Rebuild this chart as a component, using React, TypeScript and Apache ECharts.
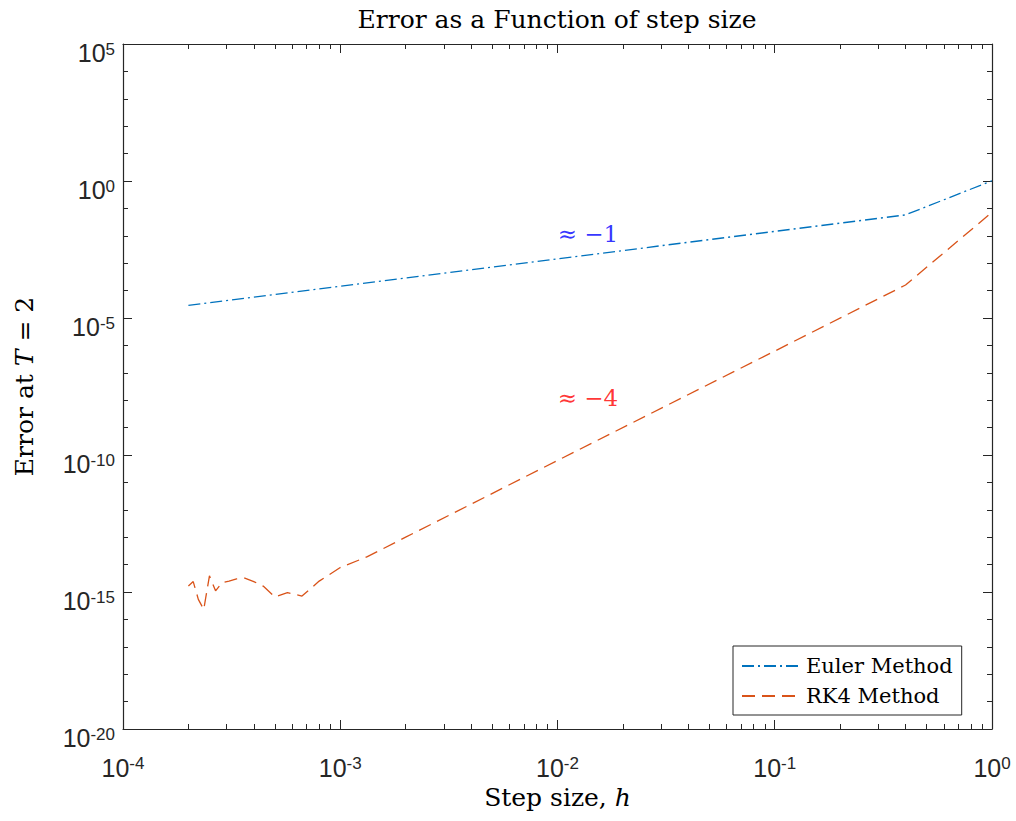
import React, { useEffect, useRef } from "react";
import * as echarts from "echarts";

// Step sizes and errors
const eulerH = [2e-4, 1e-3, 1e-2, 1e-1, 0.4, 1];
const eulerErr = [2.9e-5, 1.45e-4, 1.45e-3, 1.45e-2, 0.058, 1.02];

const rk4H = [
  2e-4, 2.105e-4, 2.222e-4, 2.353e-4, 2.5e-4, 2.667e-4, 2.857e-4, 3.077e-4,
  3.333e-4, 3.636e-4, 4e-4, 4.444e-4, 5e-4, 5.714e-4, 6.667e-4, 8e-4, 1e-3,
  1.333e-3, 2e-3, 1e-2, 1e-1, 0.4, 1,
];
const rk4Err = [
  1.66e-15, 2.4e-15, 5.4e-16, 2.3e-16, 3.9e-15, 1.1e-15, 2.2e-15, 2.5e-15,
  3.0e-15, 3.2e-15, 2.4e-15, 1.6e-15, 6.6e-16, 9.4e-16, 7.1e-16, 2.5e-15,
  7.8e-15, 1.95e-14, 1.0e-13, 6.3e-11, 6.2e-7, 1.6e-4, 0.072,
];

const seriesNames = ["Euler Method", "RK4 Method"];
const slopeNotes = [
  { text: "≈ −1", h: 0.0138, err: 0.0116, color: "#0000ff" },
  { text: "≈ −4", h: 0.0138, err: 1.2e-8, color: "#ff0000" },
];
const titleText = "Error as a Function of step size";

const AXIS = "#262626";
const SANS = "'Liberation Sans', Arial, sans-serif";
const SERIF = "'DejaVu Serif', serif";

const powLabel = (v: number) => {
  const e = Math.round(Math.log10(v));
  return `{b|10}{s|${e}}`;
};
const labelRich = {
  b: { fontSize: 25, fontFamily: SANS, color: AXIS, lineHeight: 25, padding: [8, 0, 0, 0] },
  s: { fontSize: 17, fontFamily: SANS, color: AXIS, lineHeight: 17, verticalAlign: "top", padding: [4, 0, 0, 0] },
};

export default function App() {
  const ref = useRef<HTMLDivElement>(null);
  useEffect(() => {
    if (!ref.current) return;
    const chart = echarts.init(ref.current, undefined, { renderer: "svg" });
    const tick = (len: number) => ({ show: true, inside: true, length: len, lineStyle: { color: AXIS, width: 1 } });
    const line = { show: true, lineStyle: { color: AXIS, width: 1.2 } };
    const xBase = {
      type: "log" as const,
      logBase: 10,
      min: 1e-4,
      max: 1,
      interval: 1,
      splitNumber: 4,
      splitLine: { show: false },
      axisLine: line,
      axisTick: tick(9),
      minorTick: { show: true, splitNumber: 9, length: 5, lineStyle: { color: AXIS, width: 1 } },
    };
    const yMajor = {
      type: "log" as const,
      logBase: 10,
      min: 1e-20,
      max: 1e5,
      interval: 5,
      splitNumber: 5,
      splitLine: { show: false },
      axisLine: line,
      axisTick: tick(9),
    };
    const yMinor = {
      type: "log" as const,
      logBase: 10,
      min: 1e-20,
      max: 1e5,
      interval: 1,
      splitNumber: 25,
      splitLine: { show: false },
      axisLine: { show: false },
      axisTick: tick(5),
      axisLabel: { show: false },
    };
    const nameRich = {
      r: { fontFamily: SERIF, fontSize: 25, color: "#000" },
      i: { fontFamily: SERIF, fontSize: 25, fontStyle: "italic", color: "#000" },
    };
    const toPairs = (xs: number[], ys: number[]) => xs.map((x, i) => [x, ys[i]]);
    chart.setOption({
      animation: false,
      backgroundColor: "#ffffff",
      title: {
        text: titleText,
        left: 557,
        top: 7,
        textAlign: "center",
        padding: 0,
        textStyle: { fontFamily: SERIF, fontSize: 25, fontWeight: "normal", color: "#000" },
      },
      grid: { left: 123, right: 24, top: 44, bottom: 92, show: false, outerBoundsMode: "none", containLabel: false },
      legend: {
        data: seriesNames,
        orient: "vertical",
        left: 733,
        top: 646,
        padding: [7, 9, 6, 8],
        itemWidth: 59,
        itemHeight: 14,
        itemGap: 4,
        backgroundColor: "#ffffff",
        borderColor: AXIS,
        borderWidth: 1,
        borderRadius: 0,
        itemStyle: { color: "rgba(0,0,0,0)", borderWidth: 0, opacity: 0 },
        textStyle: { fontFamily: SERIF, fontSize: 21, color: "#000", lineHeight: 26 },
      },
      xAxis: [
        {
          ...xBase,
          position: "bottom",
          axisLabel: { show: true, margin: 13, padding: [9, 0, 0, 0], formatter: powLabel, rich: labelRich },
          name: "{r|Step size, }{i|h}",
          nameLocation: "middle",
          nameGap: 50,
          nameTextStyle: { rich: nameRich },
        },
        { ...xBase, position: "top", axisLabel: { show: false } },
      ],
      yAxis: [
        {
          ...yMajor,
          position: "left",
          axisLabel: { show: true, margin: 8, padding: [10, 0, 0, 0], formatter: powLabel, rich: labelRich },
          name: "{r|Error at }{i|T}{r| = 2}",
          nameLocation: "middle",
          nameRotate: 90,
          nameGap: 86,
          nameTextStyle: { rich: nameRich },
        },
        { ...yMinor, position: "left" },
        { ...yMajor, position: "right", axisLabel: { show: false } },
        { ...yMinor, position: "right" },
      ],
      series: [
        {
          name: seriesNames[0],
          type: "line",
          xAxisIndex: 0,
          yAxisIndex: 0,
          symbol: "none",
          data: toPairs(eulerH, eulerErr),
          itemStyle: { color: "#0072BD" },
          lineStyle: { color: "#0072BD", width: 1.3, type: [12, 4, 2, 4] },
        },
        {
          name: seriesNames[1],
          type: "line",
          xAxisIndex: 0,
          yAxisIndex: 0,
          symbol: "none",
          data: toPairs(rk4H, rk4Err),
          itemStyle: { color: "#D95319" },
          lineStyle: { color: "#D95319", width: 1.3, type: [13, 7] },
        },
        ...slopeNotes.map((n) => ({
          name: n.text,
          type: "scatter",
          xAxisIndex: 0,
          yAxisIndex: 0,
          symbolSize: 0,
          silent: true,
          data: [[n.h, n.err]],
          label: {
            show: true,
            position: "inside",
            formatter: n.text,
            fontFamily: SERIF,
            fontSize: 23,
            color: n.color,
          },
        })),
      ],
    });
    return () => chart.dispose();
  }, []);
  return (
    <div
      ref={ref}
      style={{ position: "fixed", left: 0, top: 0, width: 1016, height: 821, background: "#fff" }}
    />
  );
}
